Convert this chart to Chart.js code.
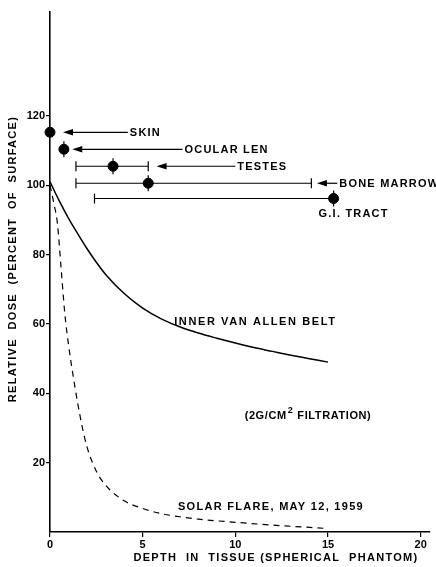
<!DOCTYPE html>
<html><head><meta charset="utf-8">
<script src="https://cdn.jsdelivr.net/npm/chart.js@4"></script>
<style>html,body{margin:0;padding:0;background:#fff}#wrap{width:436px;height:567px;position:relative}</style>
</head><body><div id="wrap"><canvas id="c"></canvas></div>
<script>
// ---- data ----
const vanAllenX = [0,0.5,1,1.5,2,2.5,3,4,5,6,7,8,9,10,11,12,13,14,15];
const vanAllenY = [101,95.5,90.5,86,81.7,77.8,74.3,68.8,64.6,61.5,59.2,57.4,55.9,54.5,53.2,52.1,51,50,49];
const solarX = [0,0.2,0.4,0.6,0.8,1,1.25,1.5,1.75,2,2.5,3,4,5,6,7,8,10,12,15];
const solarY = [100,95,89,76,63,54,45,37,30,24.5,17.5,13.5,9,6.8,5.3,4.4,3.7,2.8,2,1];
const organs = ['SKIN','OCULAR LEN','TESTES','BONE MARROW','G.I. TRACT'];
const organX = [0,0.75,3.4,5.3,15.3];
const organY = [115.3,110.4,105.5,100.6,96.2];
const errLow = [null,null,1.4,1.4,2.4];
const errHigh = [null,null,5.3,14.1,15.3];
const arrowTip = [0.7,1.2,5.75,14.4,null];
const arrowTail = [4.2,7.15,10,15.5,null];
const xTicks = [0,5,10,15,20];
const yTicks = [20,40,60,80,100,120];
const curveLabels = ['INNER VAN ALLEN BELT','SOLAR FLARE, MAY 12, 1959'];
const xTitle = 'DEPTH  IN  TISSUE (SPHERICAL  PHANTOM)';
const yTitle = 'RELATIVE  DOSE  (PERCENT  OF  SURFACE)';

const FONT = 'bold 11px "Liberation Sans", Arial, sans-serif';

function txt(ctx, s, x, y, align){
  ctx.textAlign = align || 'left';
  ctx.fillText(s, x, y);
}

const annot = {
  id: 'annot',
  afterDatasetsDraw(chart){
    const {ctx, scales:{x, y}} = chart;
    ctx.save();
    ctx.strokeStyle = '#000'; ctx.fillStyle = '#000';
    ctx.lineWidth = 1.2;
    ctx.font = FONT;
    ctx.letterSpacing = '1.2px';
    ctx.textBaseline = 'middle';
    organs.forEach((name, i) => {
      const px = x.getPixelForValue(organX[i]);
      const py = y.getPixelForValue(organY[i]);
      if (errLow[i] != null){
        const x1 = x.getPixelForValue(errLow[i]);
        const x2 = x.getPixelForValue(errHigh[i]);
        ctx.beginPath(); ctx.moveTo(x1, py); ctx.lineTo(x2, py); ctx.stroke();
        ctx.beginPath(); ctx.moveTo(x1, py-5); ctx.lineTo(x1, py+5); ctx.stroke();
        if (errHigh[i] !== organX[i]){
          ctx.beginPath(); ctx.moveTo(x2, py-5); ctx.lineTo(x2, py+5); ctx.stroke();
        }
      }
      if (i > 0){
        ctx.beginPath(); ctx.moveTo(px, py-8); ctx.lineTo(px, py+8); ctx.stroke();
      }
      if (arrowTip[i] != null){
        const t = x.getPixelForValue(arrowTip[i]);
        const e = x.getPixelForValue(arrowTail[i]);
        ctx.beginPath(); ctx.moveTo(t+6, py); ctx.lineTo(e, py); ctx.stroke();
        ctx.beginPath(); ctx.moveTo(t, py); ctx.lineTo(t+10, py-3.2); ctx.lineTo(t+10, py+3.2); ctx.closePath(); ctx.fill();
        txt(ctx, name, e + 2, py + 0.5);
      } else {
        txt(ctx, name, px - 15, py + 15);
      }
    });
    // curve labels
    ctx.letterSpacing = '1.6px';
    txt(ctx, curveLabels[0], x.getPixelForValue(6.7), y.getPixelForValue(60.5));
    ctx.letterSpacing = '1.3px';
    txt(ctx, curveLabels[1], x.getPixelForValue(6.9), y.getPixelForValue(7.2));
    ctx.letterSpacing = '0.6px';
    // filtration label with superscript
    let fx = x.getPixelForValue(10.5), fy = y.getPixelForValue(33.6);
    const a = '(2G/CM';
    txt(ctx, a, fx, fy);
    fx += ctx.measureText(a).width + 1;
    ctx.font = 'bold 9px "Liberation Sans", Arial, sans-serif';
    txt(ctx, '2', fx, fy - 5);
    fx += ctx.measureText('2').width + 4;
    ctx.font = FONT;
    txt(ctx, 'FILTRATION)', fx, fy);
    // axis titles
    ctx.letterSpacing = '1.3px';
    txt(ctx, xTitle, 276, 558, 'center');
    ctx.translate(13, 259);
    ctx.rotate(-Math.PI/2);
    txt(ctx, yTitle, 0, 0, 'center');
    ctx.restore();
  }
};

const ticksFont = {family: '"Liberation Sans", Arial, sans-serif', size: 11, weight: 'bold'};

new Chart(document.getElementById('c'), {
  type: 'scatter',
  data: {
    datasets: [
      {
        type: 'line', label: 'Inner Van Allen Belt',
        data: vanAllenX.map((v, i) => ({x: v, y: vanAllenY[i]})),
        borderColor: '#000', borderWidth: 1.5, pointRadius: 0,
        cubicInterpolationMode: 'monotone', fill: false
      },
      {
        type: 'line', label: 'Solar flare',
        data: solarX.map((v, i) => ({x: v, y: solarY[i]})),
        borderColor: '#000', borderWidth: 1.2, borderDash: [6, 5], pointRadius: 0,
        cubicInterpolationMode: 'monotone', fill: false
      },
      {
        label: 'Organs', clip: false,
        data: organX.map((v, i) => ({x: v, y: organY[i]})),
        backgroundColor: '#000', borderColor: '#000', pointRadius: 5, pointHoverRadius: 5
      }
    ]
  },
  options: {
    responsive: true, maintainAspectRatio: false, animation: false,
    layout: {padding: {top: 12, right: 5, left: 0, bottom: 0}},
    plugins: {legend: {display: false}, tooltip: {enabled: false}},
    scales: {
      x: {
        type: 'linear', min: 0, max: 20.5,
        afterBuildTicks: s => { s.ticks = xTicks.map(v => ({value: v})); },
        afterFit: s => { s.height = 35; },
        grid: {display: true, drawOnChartArea: false, color: '#000', tickLength: 5, lineWidth: 1.2},
        border: {display: true, color: '#000', width: 1.6},
        ticks: {color: '#000', font: ticksFont, padding: 1, maxRotation: 0,
                callback: v => String(v)}
      },
      y: {
        type: 'linear', min: 0, max: 150,
        afterBuildTicks: s => { s.ticks = yTicks.map(v => ({value: v})); },
        afterFit: s => { s.width = 50; },
        grid: {display: true, drawOnChartArea: false, color: '#000', tickLength: 4, lineWidth: 1.2},
        border: {display: true, color: '#000', width: 1.6},
        ticks: {color: '#000', font: ticksFont, padding: 1, callback: v => String(v)}
      }
    }
  },
  plugins: [annot]
});
</script>
</body></html>
